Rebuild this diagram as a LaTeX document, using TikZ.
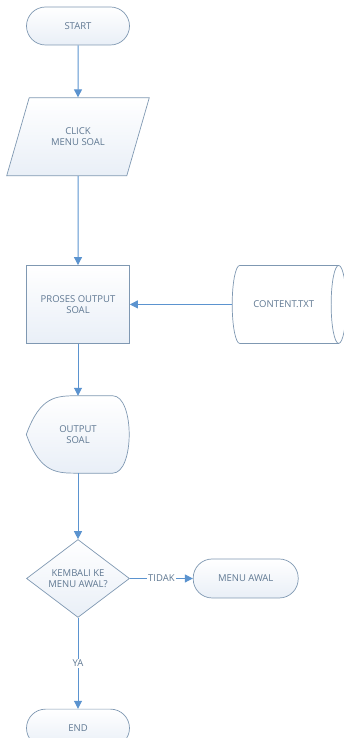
\documentclass[tikz,border=0pt]{standalone}
\usepackage{fontspec}
\setmainfont{Open Sans}
\usetikzlibrary{shapes.geometric, arrows.meta, positioning}
\definecolor{edgeGray}{HTML}{7F98B2}
\definecolor{flowBlue}{HTML}{5B93CF}
\definecolor{labelGray}{HTML}{5F7892}
\definecolor{fillBlue}{HTML}{E9EFF7}

\begin{document}
\begin{tikzpicture}[
    x=1pt, y=-1pt,
    node distance=52pt,
    every node/.style={font=\fontsize{9.5}{11.5}\selectfont, text=labelGray, align=center},
    base/.style={draw=edgeGray, line width=0.7pt, top color=white, bottom color=fillBlue},
    terminal/.style={base, rectangle, rounded corners=19pt, minimum width=103pt, minimum height=38pt},
    inbox/.style={base, trapezium, trapezium left angle=61, trapezium right angle=119, trapezium stretches=true, minimum width=143pt, minimum height=78pt},
    procbox/.style={base, rectangle, minimum width=103pt, minimum height=78pt},
    store/.style={draw=edgeGray, line width=0.7pt, fill=white, cylinder, aspect=1.1, minimum height=114pt, minimum width=78pt},
    decision/.style={base, diamond, minimum width=103pt, minimum height=76pt, inner sep=0pt},
    flow/.style={draw=flowBlue, line width=1pt, -{Triangle[width=8pt, length=8pt]}},
    tag/.style={fill=white, inner sep=1pt},
]
    \useasboundingbox (0,0) rectangle (344,738);

    \node[terminal] (start) at (78,26) {START};
    \node[inbox, below=of start] (click) {CLICK\\MENU SOAL};
    \node[procbox, below=89pt of click] (proses) {PROSES OUTPUT\\SOAL};
    \node[store, right=102pt of proses] (content) {CONTENT.TXT};
    \node[minimum width=103pt, minimum height=77pt, below=of proses] (output) {OUTPUT\\SOAL};
    \node[decision, below=66pt of output] (kembali) {KEMBALI KE\\MENU AWAL?};
    \node[terminal, minimum width=105pt, minimum height=39pt, right=63pt of kembali] (awal) {MENU AWAL};
    \node[terminal, below=91pt of kembali] (end) {END};

    % display symbol
    \path[base] (output.west) .. controls ([xshift=14pt]output.west |- output.north) and ([xshift=30pt]output.north west) .. (output.north)
        -- ([xshift=-17pt]output.north east) .. controls ([xshift=5pt]output.north east) and ([xshift=5pt]output.south east) .. ([xshift=-17pt]output.south east)
        -- (output.south) .. controls ([xshift=30pt]output.south west) and ([xshift=14pt]output.west |- output.south) .. (output.west) -- cycle;
    \node at (output) {OUTPUT\\SOAL};

    \draw[flow] (start) -- (click);
    \draw[flow] (click) -- (proses);
    \draw[flow] (content) -- (proses);
    \draw[flow] (proses) -- (output);
    \draw[flow] (output) -- (kembali);
    \draw[flow] (kembali) -- node[tag] {TIDAK} (awal);
    \draw[flow] (kembali) -- node[tag] {YA} (end);
\end{tikzpicture}
\end{document}
